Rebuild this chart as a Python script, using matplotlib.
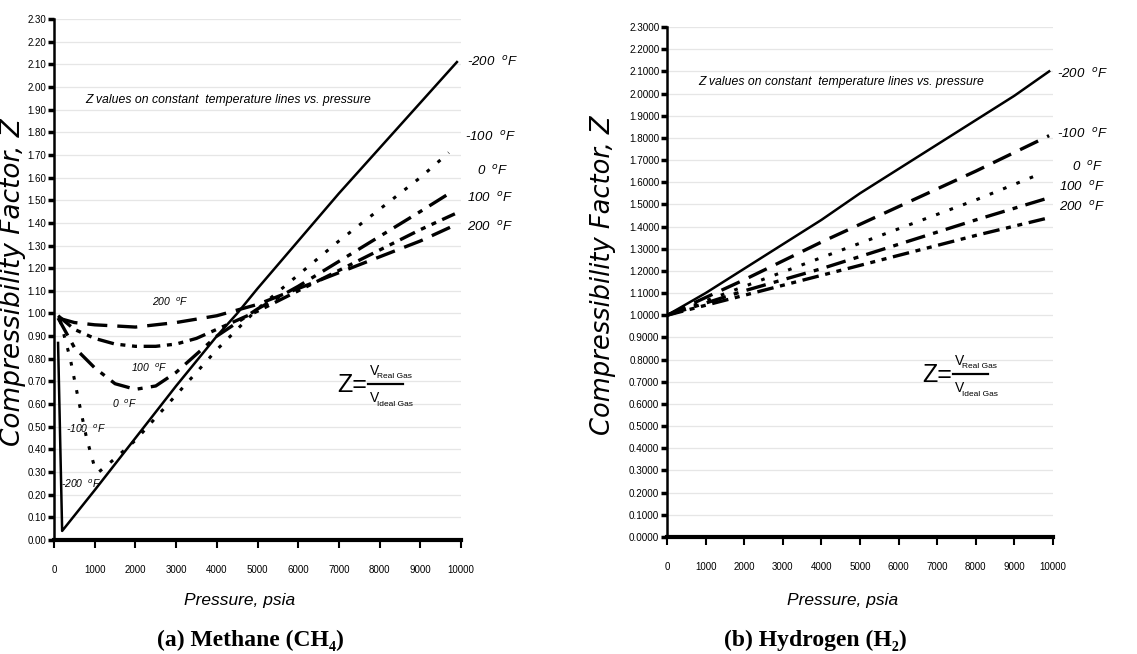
import matplotlib
matplotlib.use('Agg')
import matplotlib.pyplot as plt
from matplotlib.lines import Line2D

SANS = ['Liberation Sans', 'DejaVu Sans']
WIDE = ['DejaVu Sans']
SERIF = ['Liberation Serif', 'DejaVu Serif']

# ---- data: methane (CH4), pressure psia vs Z ----
ch4_m200_p = [100, 200, 1000, 2000, 3000, 4000, 4500, 5000, 6000, 7000, 8000, 9000, 9900]
ch4_m200_z = [0.87, 0.04, 0.22, 0.45, 0.68, 0.90, 1.00, 1.11, 1.32, 1.53, 1.73, 1.93, 2.11]
ch4_m100_p = [150, 400, 600, 800, 1000, 1100, 1500, 2000, 3000, 4000, 4500, 5000, 6000, 7000, 8000, 9000, 9700]
ch4_m100_z = [0.97, 0.80, 0.62, 0.45, 0.32, 0.30, 0.36, 0.44, 0.64, 0.84, 0.93, 1.02, 1.17, 1.32, 1.46, 1.60, 1.71]
ch4_0_p = [100, 500, 1000, 1500, 2000, 2500, 3000, 4000, 5000, 6000, 7000, 8000, 9000, 9800]
ch4_0_z = [0.98, 0.85, 0.76, 0.69, 0.665, 0.68, 0.74, 0.90, 1.02, 1.12, 1.23, 1.34, 1.45, 1.54]
ch4_100_p = [100, 500, 1000, 1500, 2000, 2500, 3000, 3500, 4000, 5000, 6000, 7000, 8000, 9000, 9850]
ch4_100_z = [0.99, 0.93, 0.89, 0.865, 0.855, 0.855, 0.865, 0.89, 0.93, 1.01, 1.10, 1.19, 1.28, 1.37, 1.44]
ch4_200_p = [100, 500, 1000, 2000, 3000, 4000, 5000, 6000, 7000, 8000, 9000, 9850]
ch4_200_z = [0.98, 0.96, 0.95, 0.94, 0.96, 0.99, 1.04, 1.11, 1.18, 1.25, 1.32, 1.39]

# ---- data: hydrogen (H2) ----
h2_m200_p = [0, 1000, 2000, 3000, 4000, 5000, 6000, 7000, 8000, 9000, 9900]
h2_m200_z = [1.00, 1.10, 1.21, 1.32, 1.43, 1.55, 1.66, 1.77, 1.88, 1.99, 2.10]
h2_m100_p = [0, 2000, 4000, 6000, 8000, 9900]
h2_m100_z = [1.00, 1.16, 1.33, 1.49, 1.65, 1.81]
h2_0_p = [0, 2000, 4000, 6000, 8000, 9700]
h2_0_z = [1.00, 1.13, 1.26, 1.39, 1.52, 1.64]
h2_100_p = [0, 2000, 4000, 6000, 8000, 9900]
h2_100_z = [1.00, 1.11, 1.21, 1.32, 1.43, 1.53]
h2_200_p = [0, 2000, 4000, 6000, 8000, 9900]
h2_200_z = [1.00, 1.09, 1.18, 1.27, 1.36, 1.44]

temp_labels = ['-200', '-100', '0', '100', '200']

STYLES = {
    'solid': '-',
    'dash': (0, (6, 3)),
    'dot': (0, (1.2, 3.5)),
    'dashdot': (0, (6, 2.5, 1.5, 2.5)),
    'dashdotdot': (0, (5, 2, 1.5, 2, 1.5, 2)),
}

fig = plt.figure(figsize=(11.37, 6.54), dpi=100)
W, H = 1137, 654


def fx(px):
    return px / W


def fy(py):
    return 1 - py / H


def make_axes(l, r, b, t):
    return fig.add_axes([fx(l), fy(b), (r - l) / W, (b - t) / H])


def style_axes(ax, fmt, ysize, xsize):
    ax.set_xlim(0, 10000)
    ax.set_ylim(0, 2.3)
    ax.set_xticks(range(0, 10001, 1000))
    yt = [i / 10 for i in range(24)]
    ax.set_yticks(yt)
    ax.set_yticklabels([fmt.format(v) for v in yt])
    for s in ['top', 'right']:
        ax.spines[s].set_visible(False)
    ax.spines['left'].set_linewidth(1.8)
    ax.spines['bottom'].set_linewidth(3)
    ax.grid(axis='y', color='#e6e6e6', lw=0.9)
    ax.set_axisbelow(True)
    ax.tick_params(axis='y', length=4, width=2.5, pad=1.5, labelsize=ysize)
    ax.tick_params(axis='x', length=6, width=1.5, pad=12, labelsize=xsize)
    for lab in ax.get_xticklabels() + ax.get_yticklabels():
        lab.set_fontfamily(SANS)


def fraction(zx, zy, bar_x0, bar_x1):
    # Z = V_Real Gas / V_Ideal Gas, placed in pixel positions of the figure
    kw = dict(fontfamily=SANS, color='black', va='center', ha='left')
    fig.text(fx(zx), fy(zy), 'Z=', fontsize=18, **kw)
    fig.add_artist(Line2D([fx(bar_x0), fx(bar_x1)], [fy(zy - 1), fy(zy - 1)],
                          transform=fig.transFigure, color='black', lw=1.6))
    fig.text(fx(bar_x0 + 2), fy(zy - 14), 'V', fontsize=10, **kw)
    fig.text(fx(bar_x0 + 9), fy(zy - 9), 'Real Gas', fontsize=6, **kw)
    fig.text(fx(bar_x0 + 2), fy(zy + 13), 'V', fontsize=10, **kw)
    fig.text(fx(bar_x0 + 9), fy(zy + 19), 'Ideal Gas', fontsize=6, **kw)


lab_kw = dict(fontfamily=SANS, fontstyle='italic', fontsize=9.5, color='black',
              clip_on=False, va='center', ha='left')
in_kw = dict(fontfamily=SANS, fontstyle='italic', fontsize=7.5, color='black',
             va='center', ha='left')
note_kw = dict(fontfamily=SANS, fontstyle='italic', fontsize=8.8, color='black',
               va='center', ha='left')

# ---------------- (a) Methane ----------------
ax1 = make_axes(54, 461, 540, 19)
style_axes(ax1, '{:.2f}', 7, 7)
ax1.plot(ch4_m200_p, ch4_m200_z, color='black', lw=1.8, ls=STYLES['solid'])
ax1.plot(ch4_m100_p, ch4_m100_z, color='black', lw=2.2, ls=STYLES['dot'])
ax1.plot(ch4_0_p, ch4_0_z, color='black', lw=2.4, ls=STYLES['dashdot'])
ax1.plot(ch4_100_p, ch4_100_z, color='black', lw=2.4, ls=STYLES['dashdotdot'])
ax1.plot(ch4_200_p, ch4_200_z, color='black', lw=2.4, ls=STYLES['dash'])

end_y1 = [2.11, 1.78, 1.63, 1.51, 1.38]
end_x1 = [10150, 10100, 10400, 10150, 10150]
for t, x, y in zip(temp_labels, end_x1, end_y1):
    ax1.text(x, y, t + '  $^{o}$F', **lab_kw)

ax1.text(2400, 1.05, '200  $^{o}$F', **in_kw)
ax1.text(1880, 0.76, '100  $^{o}$F', **in_kw)
ax1.text(1420, 0.60, '0  $^{o}$F', **in_kw)
ax1.text(300, 0.49, '-100  $^{o}$F', **in_kw)
ax1.text(180, 0.25, '-200  $^{o}$F', **in_kw)

fig.text(fx(85), fy(100), 'Z values on constant  temperature lines vs. pressure', **note_kw)
fraction(337, 385, 368, 403)
fig.text(fx(13), fy(282), 'Compressibility Factor, Z', rotation=90, ha='center',
         va='center', fontfamily=WIDE, fontstyle='italic', fontsize=19)
fig.text(fx(240), fy(600), 'Pressure, psia', ha='center', va='center',
         fontfamily=SANS, fontstyle='italic', fontsize=12.5)
fig.text(fx(250), fy(640), '(a) Methane (CH\u2084)', ha='center', va='center',
         fontfamily=SERIF, fontweight='bold', fontsize=17)

# ---------------- (b) Hydrogen ----------------
ax2 = make_axes(667, 1053, 537, 27)
style_axes(ax2, '{:.4f}', 7.1, 7)
ax2.plot(h2_m200_p, h2_m200_z, color='black', lw=1.8, ls=STYLES['solid'])
ax2.plot(h2_m100_p, h2_m100_z, color='black', lw=2.4, ls=STYLES['dash'])
ax2.plot(h2_0_p, h2_0_z, color='black', lw=2.2, ls=STYLES['dot'])
ax2.plot(h2_100_p, h2_100_z, color='black', lw=2.4, ls=STYLES['dashdot'])
ax2.plot(h2_200_p, h2_200_z, color='black', lw=2.4, ls=STYLES['dashdotdot'])

end_y2 = [2.09, 1.82, 1.67, 1.58, 1.49]
end_x2 = [10100, 10100, 10500, 10150, 10150]
for t, x, y in zip(temp_labels, end_x2, end_y2):
    ax2.text(x, y, t + '  $^{o}$F', **lab_kw)

fig.text(fx(698), fy(82), 'Z values on constant  temperature lines vs. pressure', **note_kw)
fraction(922, 375, 953, 988)
fig.text(fx(603), fy(275), 'Compressibility Factor, Z', rotation=90, ha='center',
         va='center', fontfamily=WIDE, fontstyle='italic', fontsize=18.5)
fig.text(fx(843), fy(600), 'Pressure, psia', ha='center', va='center',
         fontfamily=SANS, fontstyle='italic', fontsize=12.5)
fig.text(fx(815), fy(640), '(b) Hydrogen (H\u2082)', ha='center', va='center',
         fontfamily=SERIF, fontweight='bold', fontsize=17)

fig.savefig('out.png', dpi=100)
